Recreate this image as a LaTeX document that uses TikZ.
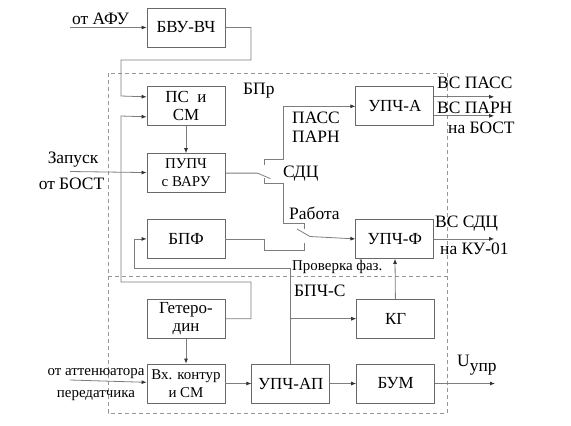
\documentclass[tikz,border=0pt]{standalone}
\usepackage{fontspec}
\setmainfont{Liberation Serif}
\usepackage{xcolor}
\usetikzlibrary{arrows.meta,positioning,calc}
\definecolor{BoxGray}{RGB}{105,105,105}
\definecolor{WireGray}{RGB}{125,125,125}
\definecolor{FrameGray}{RGB}{150,150,150}
\newcommand{\boxfont}{\fontsize{17}{18}\selectfont}
\newcommand{\smallfont}{\fontsize{15}{18}\selectfont}
\newcommand{\labelfont}{\fontsize{17.5}{19}\selectfont}

\begin{document}
\begin{tikzpicture}[x=1bp,y=1bp,
        block/.style={draw=BoxGray,line width=0.8bp,minimum width=78bp,
                      minimum height=39bp,inner sep=1bp,align=center,font=\boxfont},
        arr/.style={-{Latex[length=5bp,width=4bp,color=black!80]},WireGray,line width=0.8bp},
        wire/.style={WireGray,line width=0.8bp},
        frame/.style={draw=FrameGray,line width=0.8bp,dash pattern=on 4bp off 3bp},
        lbl/.style={font=\labelfont,inner sep=0pt,anchor=base west},
        slbl/.style={font=\smallfont,inner sep=0pt,anchor=base west}
      ]
        \useasboundingbox (0,0) rectangle (571,-425);
        \draw[frame] (108,-73) rectangle (447,-413);
        \draw[frame] (108,-276) -- (447,-276);

        \node[block] (bvu) at (186,-27.5) {БВУ-ВЧ};
        \node[block,below=39bp of bvu] (ps) {ПС~~и\\СМ};
        \node[block,below=27bp of ps,font=\smallfont] (pupch) {ПУПЧ\\с ВАРУ};
        \node[block,below=26bp of pupch] (bpf) {БПФ};
        \node[block,below=40bp of bpf] (geter) {Гетеро-\\дин};
        \node[block,below=25bp of geter,font=\smallfont] (vx) {Вх. контур\\и СМ};
        \node[block,right=26bp of vx] (upchap) {УПЧ-АП};
        \node[block,right=26bp of upchap] (bum) {БУМ};
        \node[block,above=25bp of bum] (kg) {КГ};
        \node[block,right=130bp of ps] (upcha) {УПЧ-А};
        \node[block,right=130bp of bpf] (upchf) {УПЧ-Ф};

        \node[lbl] (bpr) at (243,-94) {БПр};
        \node[lbl] (bpchs) at (294,-296) {БПЧ-С};
        \node[slbl] (prov) at (292,-270) {Проверка фаз.};
        \node[lbl] (afulbl) at (72,-24) {от АФУ};
        \node[lbl,anchor=base] (zap1) at (73,-163) {Запуск};
        \node[lbl,anchor=base] (zap2) at (71.5,-189) {от БОСТ};
        \node[slbl,anchor=base] (att1) at (96,-375) {от аттенюатора};
        \node[slbl,anchor=base] (att2) at (96,-397) {передатчика};
        \node[lbl] (pass) at (292,-123) {ПАСС};
        \node[lbl] (parn) at (292,-142) {ПАРН};
        \node[lbl] (sdc) at (283,-177) {СДЦ};
        \node[lbl] (rab) at (289,-219) {Работа};
        \node[lbl] (vspass) at (437,-88) {ВС ПАСС};
        \node[lbl] (vsparn) at (437,-113) {ВС ПАРН};
        \node[lbl] (nabost) at (448,-133) {на БОСТ};
        \node[lbl] (vssdc) at (435,-227) {ВС СДЦ};
        \node[lbl] (naku) at (440,-254) {на КУ-01};
        \node[lbl] (uupr) at (457,-366) {U\raisebox{-5bp}{упр}};

        \coordinate (afu) at (70,-27.5);
        \coordinate (start) at (70,-171.5);
        \coordinate (att) at (70,-380);
        \coordinate (psin1) at ($(ps.west)+(0,9.5)$);
        \coordinate (psin2) at ($(ps.west)+(0,-10.5)$);
        \coordinate (sw1) at ($(pupch.east)+(32,0)$);
        \coordinate (sw1up) at (264,-165);
        \coordinate (sw1dn) at (264,-178);
        \coordinate (sw2) at (310,-236.5);
        \coordinate (sw2up) at (304,-229);
        \coordinate (sw2dn) at (304,-243);
        \coordinate (tap) at (upchap.north |- kg.west);
        \coordinate (passout) at ($(upcha.east)+(60,9.5)$);
        \coordinate (parnout) at ($(upcha.east)+(60,-9.5)$);
        \coordinate (sdcout) at ($(upchf.east)+(60,0)$);
        \coordinate (uout) at ($(bum.east)+(60,0)$);

        \draw[arr] (afu) -- (bvu);
        \draw[arr] (bvu.east) -| (251,-60) -| (121,-96) -- (psin1);
        \draw[arr] (geter.east) -| (251,-282) -| (121,-116) -- (psin2);
        \draw[arr] (ps) -- (pupch);
        \draw[arr] (start) -- (pupch);
        \draw[wire] (pupch.east) -- (sw1) -- ++(13,-5.5);
        \draw[arr] (sw1up) |- (283,-159) |- (upcha.west);
        \draw[wire] (sw1dn) |- (283,-183) |- (sw2up |- 0,-223) -- (sw2up);
        \draw[wire] (bpf.east) -- ++(39,0) |- (sw2dn |- 0,-250) -- (sw2dn);
        \draw[arr] ($(sw2)+(-13,7.5)$) -- (sw2) -- (upchf.west);
        \draw[arr] ($(upcha.east)+(0,9.5)$) -- (passout);
        \draw[arr] ($(upcha.east)+(0,-9.5)$) -- (parnout);
        \draw[arr] (upchf) -- (sdcout);
        \draw[arr] (geter) -- (vx);
        \draw[arr] (att) -- (vx);
        \draw[arr] (vx) -- (upchap);
        \draw[arr] (upchap) -- (bum);
        \draw[arr] (bum) -- (uout);
        \draw[arr] (upchap.north) |- (134,-268) |- (bpf.west);
        \draw[arr] (tap) -- (kg);
        \fill[WireGray] (tap) circle (1bp);
        \draw[arr] (kg) -- (upchf);
      \end{tikzpicture}
\end{document}
